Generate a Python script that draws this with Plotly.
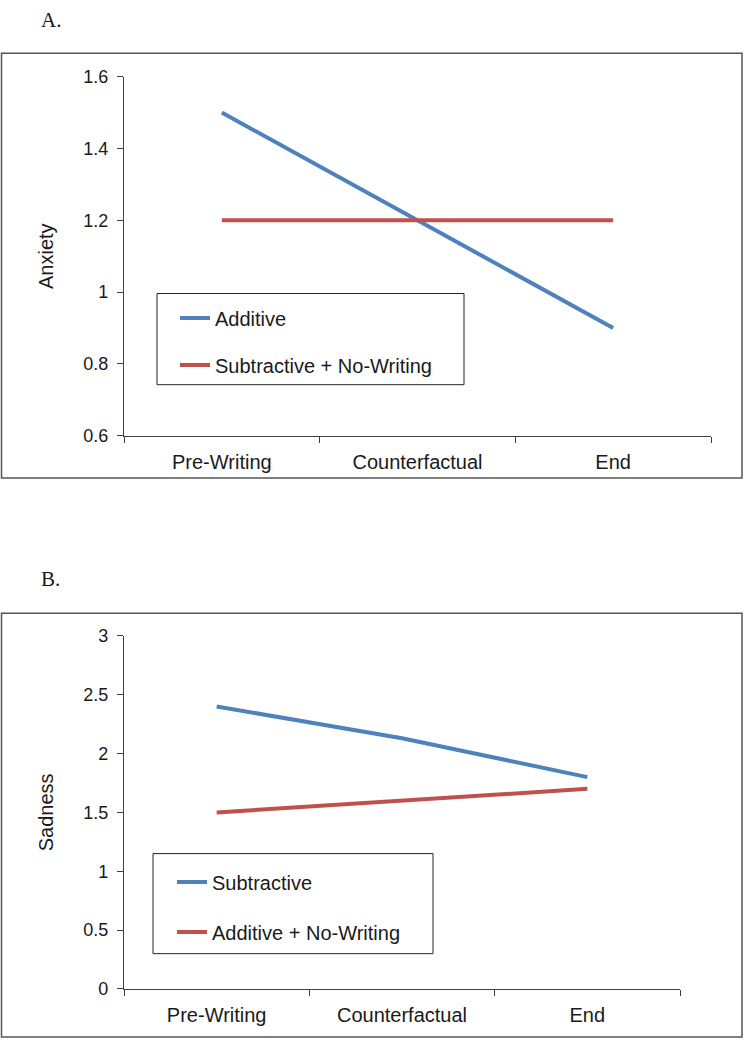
import plotly.graph_objects as go

# categories shared by both panels
phases = ["Pre-Writing", "Counterfactual", "End"]

# panel A: anxiety
anx_additive = [1.5, 1.2, 0.9]
anx_sub_nowrite = [1.2, 1.2, 1.2]

# panel B: sadness
sad_subtractive = [2.4, 2.13, 1.8]
sad_add_nowrite = [1.5, 1.6, 1.7]

W, H = 744, 1049
BLUE = "#4F81BD"
RED = "#C0504D"
AXIS = "#404040"
TXT = "#1a1a1a"
FONT = "Arial, Liberation Sans, sans-serif"


def px(x):
    return x / W


def py(y):
    return 1 - y / H


fig = go.Figure()

fig.add_trace(go.Scatter(x=phases, y=anx_additive, mode="lines", name="Additive",
                         line=dict(color=BLUE, width=4), legend="legend",
                         legendgroup="a1", xaxis="x", yaxis="y"))
fig.add_trace(go.Scatter(x=phases, y=anx_sub_nowrite, mode="lines",
                         name="Subtractive + No-Writing",
                         line=dict(color=RED, width=4), legend="legend",
                         legendgroup="a2", xaxis="x", yaxis="y"))
fig.add_trace(go.Scatter(x=phases, y=sad_subtractive, mode="lines", name="Subtractive",
                         line=dict(color=BLUE, width=4), legend="legend2",
                         legendgroup="b1", xaxis="x2", yaxis="y2"))
fig.add_trace(go.Scatter(x=phases, y=sad_add_nowrite, mode="lines",
                         name="Additive + No-Writing",
                         line=dict(color=RED, width=4), legend="legend2",
                         legendgroup="b2", xaxis="x2", yaxis="y2"))

xcommon = dict(type="category", range=[-0.5, 2.5], showline=True, linecolor=AXIS,
               linewidth=1.2, ticks="outside", tickson="boundaries", ticklen=6,
               tickcolor=AXIS, showgrid=False, zeroline=False,
               ticklabelstandoff=8,
               tickfont=dict(size=20, color=TXT, family=FONT))
ycommon = dict(showline=True, linecolor=AXIS, linewidth=1.2, ticks="outside",
               ticklen=6, tickcolor=AXIS, showgrid=False, zeroline=False,
               ticklabelstandoff=5,
               tickfont=dict(size=18, color=TXT, family=FONT))

legend_common = dict(bgcolor="rgba(0,0,0,0)", borderwidth=0,
                     font=dict(size=20, color=TXT, family=FONT),
                     xanchor="left", yanchor="top", traceorder="grouped")

fig.update_layout(
    width=W, height=H,
    margin=dict(l=0, r=0, t=0, b=0),
    paper_bgcolor="white", plot_bgcolor="white",
    font=dict(family=FONT, color=TXT),
    xaxis=dict(xcommon, domain=[px(124), px(711)], anchor="y"),
    yaxis=dict(ycommon, domain=[py(434), py(68)], range=[0.6, 1.6], dtick=0.2,
               tickformat="~g", anchor="x",
               title=dict(text="Anxiety", standoff=24,
                          font=dict(size=20, family=FONT, color=TXT))),
    xaxis2=dict(xcommon, domain=[px(124), px(680)], anchor="y2"),
    yaxis2=dict(ycommon, domain=[py(998), py(638)], range=[0, 3], dtick=0.5,
                anchor="x2",
                title=dict(text="Sadness", standoff=24,
                           font=dict(size=20, family=FONT, color=TXT))),
    legend=dict(legend_common, x=px(175), y=py(294), tracegroupgap=18),
    legend2=dict(legend_common, x=px(172), y=py(869), tracegroupgap=21),
    showlegend=True,
)

# outer frames around each panel, and the legend boxes
for (x0, y0, x1, y1), col, wd in [((1.5, 44, 742, 477), "#555", 1.5),
                                  ((1.5, 615, 742, 1047), "#555", 1.5),
                                  ((157, 289, 464, 382), "#222", 1),
                                  ((153, 860, 433, 962), "#222", 1)]:
    fig.add_shape(type="rect", xref="paper", yref="paper",
                  x0=px(x0), x1=px(x1), y0=py(y1), y1=py(y0),
                  line=dict(color=col, width=wd), layer="below")

for label, ytop in [("A.", 10), ("B.", 580)]:
    fig.add_annotation(text=label, xref="paper", yref="paper", x=px(39), y=py(ytop),
                       xanchor="left", yanchor="middle", showarrow=False,
                       font=dict(family="Liberation Serif, Times New Roman, serif",
                                 size=21, color=TXT))

fig.write_html("out.html", config={"displayModeBar": False},
               post_script="document.body.style.margin='0';")
